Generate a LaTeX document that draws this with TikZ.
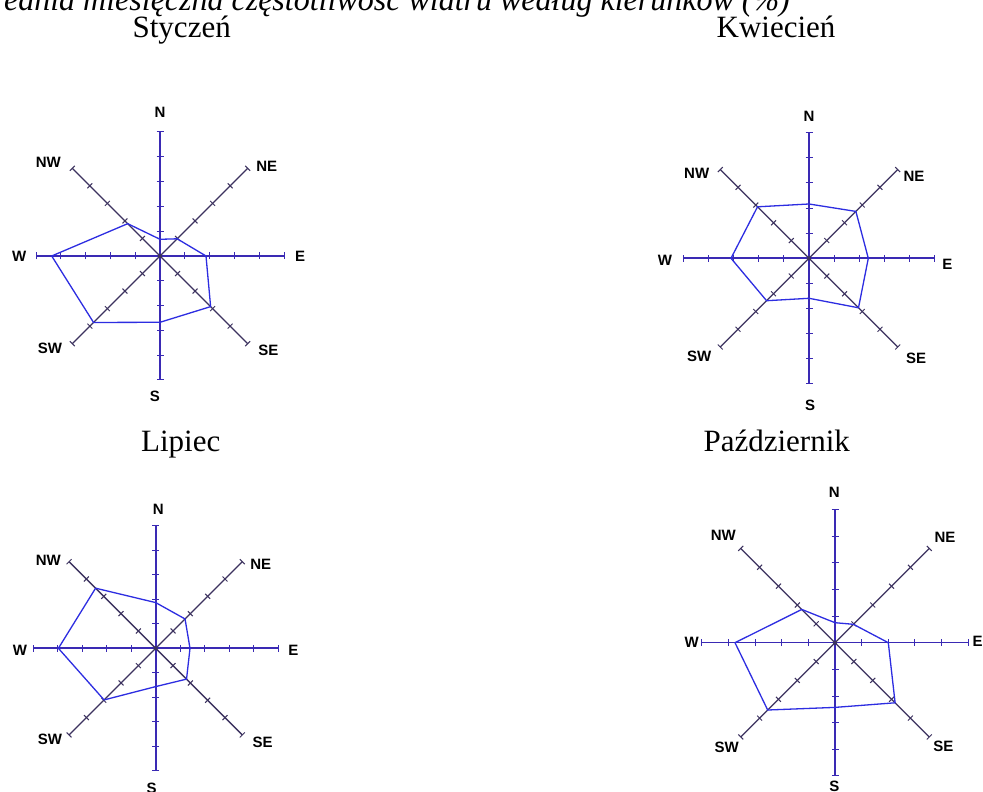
\documentclass[tikz,border=0pt]{standalone}
\usepackage{fontspec}
\setmainfont{Liberation Serif}
\newfontfamily\labfont{Liberation Sans}
\usetikzlibrary{calc}
\definecolor{axisblue}{RGB}{58,42,180}
\definecolor{diagdark}{RGB}{60,50,95}
\definecolor{polyblue}{RGB}{45,45,225}
\tikzset{
  mainaxis/.style={draw=axisblue, line width=1.6pt},
  diagaxis/.style={draw=diagdark, line width=1.3pt},
  poly/.style={draw=polyblue, line width=1.3pt, line join=round},
  dirlab/.style={font=\labfont\bfseries\fontsize{15}{17}\selectfont, inner sep=0pt},
  month/.style={font=\fontsize{31}{36}\selectfont, inner sep=0pt, anchor=base},
}
\newcommand\windrose[5]{%
  \coordinate (#1) at (#2);
  \foreach \d/\a in {N/90,NE/45,E/0,SE/-45,S/-90,SW/-135,W/180,NW/135}
    \coordinate (#1-\d) at ($(#1)+(\a:#3)$);
  \draw[diagaxis] (#1-NE) -- (#1-SW);
  \draw[diagaxis] (#1-NW) -- (#1-SE);
  \draw[mainaxis] (#1-N) -- (#1-S);
  \draw[mainaxis] (#1-W) -- (#1-E);
  \fill[diagdark] (#1) circle (2.2);
  \foreach \a/\c in {90/axisblue,0/axisblue,-90/axisblue,180/axisblue,45/diagdark,-45/diagdark,135/diagdark,-135/diagdark}
    \foreach \k in {1,...,5}
      \draw[draw=\c, line width=1pt] ($(#1)+(\a:{\k*#3/5})+(\a+90:3.5)$) -- ++(\a-90:7);
  \foreach \d/\a/\r in {#4}
    \coordinate (#1-p\d) at ($(#1)+(\a:\r)$);
  \draw[poly] (#1-pN) -- (#1-pNE) -- (#1-pE) -- (#1-pSE) -- (#1-pS) -- (#1-pSW) -- (#1-pW) -- (#1-pNW) -- cycle;
  \foreach \d/\x/\y in {#5}
    \node[dirlab] (#1-l\d) at ($(#1)+(\x,\y)$) {\d};
}
\begin{document}
\begin{tikzpicture}[x=1pt,y=1pt]
\useasboundingbox (0,0) rectangle (983,792);
\fill[white] (0,0) rectangle (983,792);
\node[font=\itshape\fontsize{32}{37}\selectfont, inner sep=0pt, anchor=base east] (title) at (790,781) {Średnia miesięczna częstotliwość wiatru według kierunków (\%)};
\node[month] (m1) at (181.7,754.7) {Styczeń};
\node[month] (m2) at (776,754.7) {Kwiecień};
\node[month] (m3) at (180.7,340.3) {Lipiec};
\node[month] (m4) at (776.7,340.3) {Październik};
\windrose{r1}{160,536}{124}
  {N/90/16.7, NE/45/24.3, E/0/46, SE/-45/71.6, S/-90/66.3, SW/-135/94, W/180/108.3, NW/135/45.7}
  {N/0/144, NE/106.7/89.3, E/140/0, SE/108.3/-94, S/-5/-140.7, SW/-110/-92.3, W/-140.7/0, NW/-111.7/93.3}
\windrose{r2}{809,533.7}{125.5}
  {N/90/54.3, NE/45/66.3, E/0/59.3, SE/-45/70, S/-90/40, SW/-135/60, W/180/78, NW/135/72.8}
  {N/0/142.3, NE/105/82.3, E/138.3/-5.7, SE/107/-100, S/1/-146.7, SW/-109.7/-98.4, W/-144/-2.4, NW/-112.3/85}
\windrose{r3}{155.7,143.7}{122.5}
  {N/90/45.7, NE/45/41.5, E/0/34.3, SE/-45/43.6, S/-90/38.3, SW/-135/73, W/180/97.3, NW/135/85}
  {N/2.6/139, NE/105/84.3, E/137.6/-2.4, SE/107/-94.4, S/-4/-140, SW/-105.7/-91, W/-135.7/-1.7, NW/-107.4/87.6}
\windrose{r4}{835,149.3}{133.3}
  {N/90/20, NE/45/26, E/0/53.3, SE/-45/85, S/-90/64.7, SW/-135/95.2, W/180/100, NW/135/47}
  {N/-0.7/150, NE/110/105.4, E/142.7/1, SE/108.3/-104, S/-0.7/-144, SW/-108.3/-104.6, W/-143.3/0, NW/-111.7/107.7}
\end{tikzpicture}
\end{document}
